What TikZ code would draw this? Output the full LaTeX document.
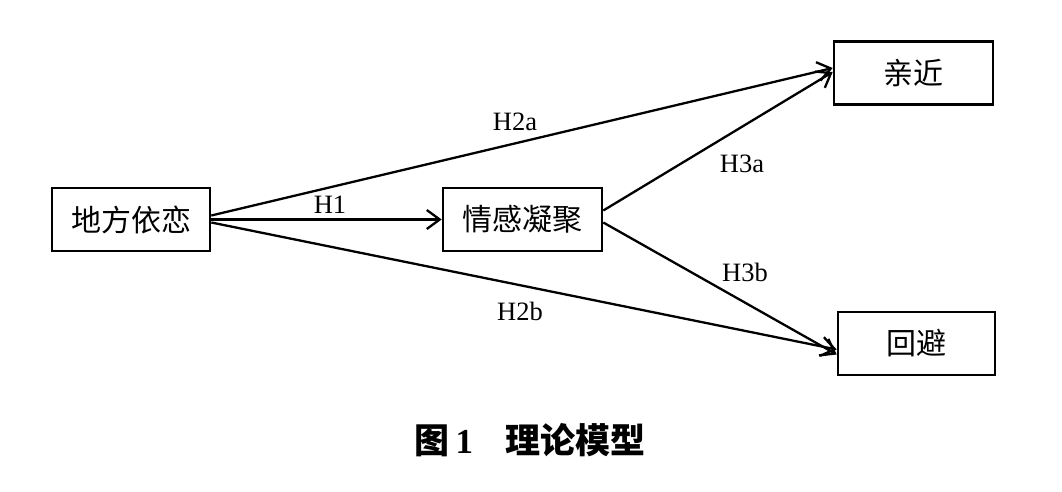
\documentclass[tikz,border=0pt]{standalone}
\usepackage{fontspec}
\setmainfont{Liberation Serif}
\newfontfamily\cjk{Noto Sans CJK SC}
\usetikzlibrary{arrows.meta}
\begin{document}
\begin{tikzpicture}[x=1pt,y=-1pt,
  box/.style={draw,line width=2.6pt,minimum height=63pt,inner sep=0pt,font=\cjk\fontsize{30}{33}\selectfont},
  conn/.style={line width=2.3pt,-{Straight Barb[length=13pt,width=19pt,line width=2.3pt]}},
  lab/.style={font=\fontsize{26.5}{28}\selectfont,inner sep=0pt}]
\useasboundingbox (0,0) rectangle (1062,492);
\node[box,minimum width=158pt] (a) at (131,219.5) {地方依恋};
\node[box,minimum width=159pt] (b) at (522.5,219.5) {情感凝聚};
\node[box,minimum width=159pt] (c) at (913.5,73) {亲近};
\node[box,minimum width=157pt] (d) at (916.5,343.5) {回避};
\draw[conn] (a.east) -- (b.west);
\draw[conn] ([yshift=4pt]a.east) -- ([yshift=5pt]c.west);
\draw[conn] ([yshift=-3pt]a.east) -- ([yshift=-6pt]d.west);
\draw[conn] ([yshift=9pt]b.east) -- ([yshift=1pt]c.west);
\draw[conn] ([yshift=-3pt]b.east) -- ([yshift=-11pt]d.west);
\node[lab] (h1) at (330,205) {H1};
\node[lab] (h2a) at (515,122) {H2a};
\node[lab] (h2b) at (520,311) {H2b};
\node[lab] (h3a) at (742,164) {H3a};
\node[lab] (h3b) at (745,272) {H3b};
\node[font=\cjk\bfseries\fontsize{35}{38}\selectfont] (cap) at (530,440) {图\,{\rmfamily\bfseries 1}\hspace{32pt}理论模型};
\end{tikzpicture}
\end{document}
